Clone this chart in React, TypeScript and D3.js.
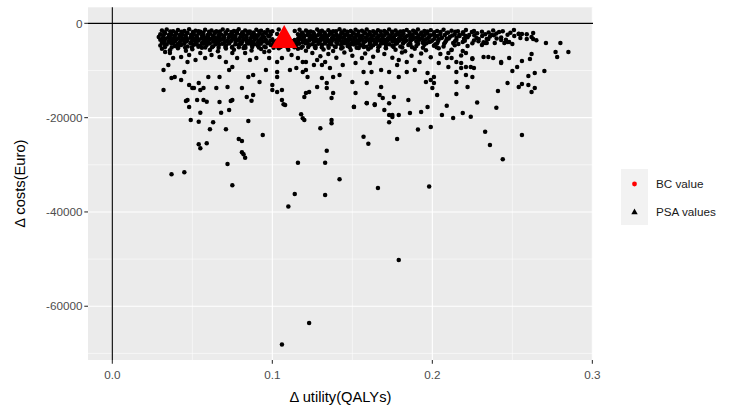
import React, { useEffect, useRef } from 'react';
import * as d3 from 'd3';

const xTicks = [0, 0.1, 0.2, 0.3];
const xTickLabels = ['0.0', '0.1', '0.2', '0.3'];
const xMinorTicks = [0.05, 0.15, 0.25];
const yTicks = [0, -20000, -40000, -60000];
const yTickLabels = ['0', '-20000', '-40000', '-60000'];
const yMinorTicks = [-10000, -30000, -50000, -70000];

const legendLabels = ['BC value', 'PSA values'];

// base case: [delta utility, delta cost]
const bcValue: [number, number] = [0.1074, -3100];

// PSA draws, dense band just under zero
const psaCore: [number, number][] = [
    [0.031,-1500],[0.034,-1300],[0.038,-1700],[0.041,-1400],[0.045,-1600],[0.048,-1250],[0.052,-1550],[0.055,-1800],[0.058,-1350],[0.062,-1500],[0.065,-1700],[0.069,-1300],[0.072,-1450],[0.076,-1650],[0.079,-1250],[0.083,-1500],[0.086,-1750],[0.090,-1350],[0.093,-1550],[0.097,-1400],[0.100,-1700],[0.104,-1300],[0.114,-1600],[0.117,-1350],[0.121,-1500],[0.124,-1750],[0.128,-1300],[0.131,-1550],[0.135,-1450],[0.138,-1700],[0.142,-1250],[0.145,-1500],[0.149,-1650],[0.152,-1350],[0.156,-1550],[0.159,-1300],[0.163,-1700],[0.166,-1450],[0.170,-1600],[0.173,-1300],[0.177,-1500],[0.180,-1750],[0.184,-1400],[0.188,-1550],[0.191,-1300],[0.195,-1650],[0.199,-1450],[0.203,-1600],[0.207,-1350],[0.212,-1550],[0.216,-1700],[0.221,-1400],[0.226,-1600],[0.231,-1800],[0.238,-1500],[0.244,-1700],[0.251,-1400],
    [0.030,-2300],[0.033,-2100],[0.037,-2400],[0.040,-2200],[0.044,-2350],[0.047,-2050],[0.051,-2300],[0.054,-2150],[0.057,-2450],[0.061,-2200],[0.064,-2050],[0.068,-2350],[0.071,-2200],[0.075,-2400],[0.078,-2100],[0.082,-2300],[0.085,-2150],[0.089,-2450],[0.092,-2200],[0.096,-2050],[0.099,-2350],[0.103,-2250],[0.116,-2300],[0.119,-2100],[0.123,-2400],[0.126,-2200],[0.130,-2050],[0.133,-2350],[0.137,-2150],[0.140,-2400],[0.144,-2100],[0.147,-2300],[0.151,-2200],[0.154,-2450],[0.158,-2100],[0.161,-2300],[0.165,-2150],[0.168,-2400],[0.172,-2200],[0.175,-2050],[0.179,-2350],[0.182,-2200],[0.186,-2400],[0.190,-2100],[0.193,-2300],[0.197,-2150],[0.201,-2400],[0.205,-2250],[0.209,-2050],[0.214,-2350],[0.219,-2200],[0.223,-2450],[0.228,-2100],[0.233,-2300],[0.240,-2150],[0.247,-2400],[0.254,-2200],[0.259,-2300],
    [0.029,-2900],[0.032,-2700],[0.036,-3000],[0.039,-2800],[0.043,-2650],[0.046,-2950],[0.050,-2750],[0.053,-3050],[0.057,-2850],[0.060,-2700],[0.064,-2950],[0.067,-2800],[0.070,-3050],[0.074,-2700],[0.077,-2900],[0.081,-2750],[0.084,-3000],[0.088,-2850],[0.091,-2650],[0.095,-2950],[0.098,-2800],[0.117,-2900],[0.120,-2700],[0.124,-3000],[0.127,-2800],[0.131,-2650],[0.134,-2950],[0.138,-2750],[0.141,-3050],[0.145,-2850],[0.148,-2700],[0.152,-2950],[0.155,-2800],[0.159,-3000],[0.162,-2700],[0.166,-2900],[0.169,-2750],[0.173,-3050],[0.176,-2850],[0.180,-2700],[0.183,-2950],[0.187,-2800],[0.191,-3000],[0.194,-2700],[0.198,-2900],[0.202,-2750],[0.206,-3000],[0.211,-2850],[0.217,-2700],[0.222,-2950],[0.236,-2800],[0.243,-3000],[0.262,-2900],
    [0.030,-3500],[0.033,-3300],[0.037,-3600],[0.040,-3400],[0.044,-3250],[0.047,-3550],[0.051,-3350],[0.054,-3650],[0.058,-3450],[0.061,-3300],[0.065,-3550],[0.068,-3400],[0.072,-3650],[0.075,-3300],[0.079,-3500],[0.082,-3350],[0.086,-3600],[0.089,-3450],[0.093,-3250],[0.096,-3550],[0.100,-3400],[0.103,-3650],[0.107,-3500],[0.110,-3300],[0.114,-3550],[0.118,-3400],[0.121,-3650],[0.125,-3300],[0.128,-3500],[0.132,-3350],[0.135,-3600],[0.139,-3450],[0.142,-3250],[0.146,-3550],[0.149,-3400],[0.153,-3650],[0.156,-3300],[0.160,-3500],[0.163,-3350],[0.167,-3600],[0.170,-3450],[0.174,-3250],[0.177,-3550],[0.181,-3400],[0.184,-3650],[0.188,-3300],[0.192,-3500],[0.196,-3350],[0.200,-3600],[0.204,-3400],[0.209,-3250],[0.215,-3550],[0.220,-3400],[0.226,-3650],[0.234,-3300],[0.246,-3500],[0.265,-3600],
    [0.031,-4100],[0.035,-3900],[0.038,-4200],[0.042,-4000],[0.045,-3850],[0.049,-4150],[0.052,-3950],[0.056,-4250],[0.059,-4050],[0.063,-3900],[0.066,-4150],[0.070,-4000],[0.073,-4250],[0.077,-3900],[0.080,-4100],[0.084,-3950],[0.087,-4200],[0.091,-4050],[0.094,-3850],[0.098,-4150],[0.101,-4000],[0.105,-4250],[0.108,-4100],[0.112,-3900],[0.115,-4150],[0.119,-4000],[0.122,-4250],[0.126,-3900],[0.129,-4100],[0.133,-3950],[0.136,-4200],[0.140,-4050],[0.143,-3850],[0.147,-4150],[0.150,-4000],[0.154,-4250],[0.157,-3900],[0.161,-4100],[0.164,-3950],[0.168,-4200],[0.171,-4050],[0.175,-3850],[0.178,-4150],[0.182,-4000],[0.186,-4250],[0.190,-3900],[0.194,-4100],[0.198,-3950],[0.203,-4200],[0.208,-4000],[0.213,-4150],[0.219,-3950],[0.225,-4200],[0.232,-4000],[0.239,-4150],[0.247,-3950],
    [0.030,-4700],[0.034,-4500],[0.039,-4800],[0.043,-4600],[0.047,-4900],[0.051,-4550],[0.055,-4750],[0.059,-4600],[0.063,-4850],[0.067,-4500],[0.071,-4700],[0.075,-4950],[0.079,-4600],[0.083,-4800],[0.087,-4550],[0.091,-4750],[0.095,-4900],[0.099,-4600],[0.103,-4800],[0.107,-4550],[0.111,-4750],[0.115,-4600],[0.119,-4900],[0.123,-4650],[0.127,-4800],[0.131,-4550],[0.135,-4750],[0.139,-4900],[0.143,-4600],[0.147,-4800],[0.151,-4500],[0.155,-4700],[0.159,-4950],[0.163,-4650],[0.167,-4800],[0.171,-4550],[0.175,-4750],[0.180,-4900],[0.185,-4600],[0.190,-4800],[0.195,-4550],[0.201,-4750],[0.207,-4900],[0.214,-4650],[0.222,-4800],[0.231,-4600],
    [0.031,-5400],[0.036,-5700],[0.041,-5300],[0.046,-5800],[0.050,-5500],[0.056,-5200],[0.061,-5650],[0.066,-5900],[0.071,-5350],[0.076,-5600],[0.082,-5250],[0.087,-5750],[0.093,-5450],[0.098,-5900],[0.104,-5300],[0.110,-5600],[0.116,-5400],[0.121,-5800],[0.127,-5250],[0.132,-5550],[0.138,-5850],[0.143,-5350],[0.149,-5650],[0.154,-5250],[0.160,-5500],[0.166,-5800],[0.171,-5300],[0.177,-5600],[0.183,-5900],[0.189,-5400],[0.196,-5700],[0.204,-5300],[0.212,-5600],[0.219,-5850]
];

// PSA draws filling the gaps of the dense band
const psaCoreFill: [number, number][] = [
    [0.0325,-1900],[0.0362,-1750],[0.0398,-1950],[0.0431,-1800],[0.0467,-2000],[0.0503,-1850],[0.0538,-1700],[0.0569,-1950],[0.0604,-1800],[0.0641,-1900],[0.0672,-1750],[0.0708,-1950],[0.0744,-1850],[0.0779,-1700],[0.0812,-1900],[0.0847,-1800],[0.0883,-1950],[0.0918,-1750],[0.0951,-1900],[0.0987,-1850],[0.1185,-1950],[0.1221,-1800],[0.1256,-1900],[0.1293,-1750],[0.1327,-1950],[0.1361,-1850],[0.1398,-1700],[0.1432,-1900],[0.1468,-1800],[0.1503,-1950],[0.1538,-1750],[0.1574,-1900],[0.1607,-1850],[0.1643,-1950],[0.1678,-1750],[0.1714,-1900],[0.1749,-1800],[0.1783,-1950],[0.1819,-1700],[0.1857,-1900],[0.1892,-1800],[0.1931,-1950],[0.1968,-1750],[0.2012,-1900],[0.2051,-1850],[0.2098,-1950],[0.2143,-1800],[0.2192,-1900],[0.2247,-1850],[0.2352,-1950],[0.2417,-1850],[0.2488,-2000],
    [0.0318,-2550],[0.0354,-2450],[0.0389,-2650],[0.0421,-2500],[0.0458,-2600],[0.0492,-2450],[0.0527,-2650],[0.0561,-2550],[0.0596,-2450],[0.0629,-2600],[0.0663,-2500],[0.0698,-2650],[0.0731,-2450],[0.0767,-2600],[0.0802,-2500],[0.0836,-2650],[0.0871,-2450],[0.0904,-2600],[0.0939,-2500],[0.0974,-2650],[0.1182,-2550],[0.1218,-2450],[0.1251,-2600],[0.1286,-2500],[0.1319,-2650],[0.1354,-2450],[0.1388,-2600],[0.1423,-2550],[0.1457,-2450],[0.1492,-2650],[0.1528,-2500],[0.1563,-2600],[0.1597,-2450],[0.1632,-2550],[0.1667,-2650],[0.1701,-2500],[0.1737,-2600],[0.1771,-2450],[0.1806,-2550],[0.1843,-2650],[0.1878,-2500],[0.1914,-2600],[0.1952,-2450],[0.1991,-2550],[0.2033,-2650],[0.2078,-2500],[0.2124,-2600],[0.2168,-2450],[0.2206,-2650],[0.2262,-2550],[0.2311,-2700],[0.2385,-2550],[0.2512,-2700],
    [0.0315,-3150],[0.0348,-3050],[0.0384,-3250],[0.0416,-3100],[0.0452,-3200],[0.0487,-3050],[0.0521,-3250],[0.0556,-3150],[0.0591,-3050],[0.0624,-3200],[0.0659,-3100],[0.0694,-3250],[0.0727,-3050],[0.0762,-3200],[0.0797,-3100],[0.0831,-3250],[0.0867,-3050],[0.0901,-3200],[0.0935,-3100],[0.1162,-3150],[0.1197,-3050],[0.1232,-3250],[0.1267,-3100],[0.1302,-3200],[0.1337,-3050],[0.1371,-3250],[0.1406,-3150],[0.1441,-3050],[0.1476,-3200],[0.1511,-3100],[0.1546,-3250],[0.1581,-3050],[0.1616,-3200],[0.1651,-3100],[0.1686,-3250],[0.1721,-3150],[0.1756,-3050],[0.1791,-3200],[0.1826,-3100],[0.1862,-3250],[0.1897,-3050],[0.1934,-3200],[0.1973,-3150],[0.2013,-3250],[0.2057,-3100],[0.2103,-3200],[0.2151,-3050],[0.2198,-3250],[0.2276,-3100],[0.2402,-3200],
    [0.0322,-3850],[0.0357,-3700],[0.0392,-3800],[0.0428,-3700],[0.0463,-3850],[0.0498,-3750],[0.0533,-3650],[0.0568,-3850],[0.0602,-3700],[0.0637,-3800],[0.0672,-3650],[0.0707,-3850],[0.0742,-3750],[0.0777,-3650],[0.0812,-3800],[0.0847,-3700],[0.0882,-3850],[0.0917,-3650],[0.0952,-3800],[0.0987,-3700],[0.1022,-3850],[0.1057,-3750],[0.1092,-3650],[0.1127,-3800],[0.1162,-3700],[0.1197,-3850],[0.1232,-3650],[0.1267,-3800],[0.1302,-3700],[0.1337,-3850],[0.1372,-3750],[0.1407,-3650],[0.1442,-3800],[0.1477,-3700],[0.1512,-3850],[0.1547,-3650],[0.1582,-3800],[0.1617,-3700],[0.1652,-3850],[0.1687,-3750],[0.1722,-3650],[0.1757,-3800],[0.1792,-3700],[0.1829,-3850],[0.1866,-3650],[0.1905,-3800],[0.1947,-3700],[0.1991,-3850],[0.2036,-3750],[0.2087,-3650],[0.2141,-3800],[0.2203,-3700],[0.2288,-3800],
    [0.0326,-4400],[0.0368,-4300],[0.0408,-4450],[0.0449,-4350],[0.0489,-4250],[0.0528,-4450],[0.0571,-4350],[0.0609,-4300],[0.0648,-4450],[0.0689,-4350],[0.0728,-4250],[0.0769,-4450],[0.0808,-4350],[0.0849,-4300],[0.0889,-4450],[0.0928,-4350],[0.0969,-4250],[0.1009,-4450],[0.1048,-4350],[0.1089,-4300],[0.1129,-4450],[0.1168,-4350],[0.1209,-4250],[0.1249,-4450],[0.1288,-4350],[0.1329,-4300],[0.1369,-4450],[0.1408,-4350],[0.1449,-4250],[0.1489,-4450],[0.1528,-4350],[0.1569,-4300],[0.1609,-4450],[0.1648,-4350],[0.1689,-4250],[0.1731,-4450],[0.1772,-4350],[0.1817,-4300],[0.1862,-4450],[0.1911,-4350],[0.1963,-4250],[0.2018,-4450],[0.2074,-4350],[0.2163,-4400],
    [0.0328,-5050],[0.0371,-5150],[0.0412,-5000],[0.0455,-5150],[0.0497,-5050],[0.0538,-4950],[0.0581,-5150],[0.0623,-5050],[0.0664,-5200],[0.0706,-5000],[0.0748,-5150],[0.0791,-5050],[0.0832,-5200],[0.0874,-5000],[0.0916,-5150],[0.0958,-5050],[0.1008,-5200],[0.1052,-5000],[0.1095,-5150],[0.1138,-5050],[0.1181,-5200],[0.1224,-5000],[0.1267,-5150],[0.1309,-5050],[0.1352,-5200],[0.1396,-5000],[0.1439,-5150],[0.1483,-5050],[0.1527,-5200],[0.1571,-5000],[0.1616,-5150],[0.1662,-5050],[0.1709,-5200],[0.1758,-5000],[0.1812,-5150],[0.1873,-5050],[0.1941,-5200],[0.2027,-5050]
];

// PSA draws, sparser part of the band (-6000 .. -16000)
const psaMid: [number, number][] = [
    [0.033,-6090],[0.036,-6300],[0.038,-7360],[0.043,-7150],[0.047,-8210],[0.048,-6720],[0.052,-7780],[0.055,-6300],[0.058,-7360],[0.062,-6720],[0.067,-7150],[0.071,-8210],[0.075,-6300],[0.078,-7360],[0.083,-6300],[0.086,-7780],[0.090,-7360],[0.095,-6090],[0.098,-7360],[0.103,-8210],[0.106,-7360],[0.112,-6720],[0.116,-7360],[0.121,-8210],
    [0.032,-9910],[0.032,-14150],[0.035,-8840],[0.037,-11600],[0.039,-11390],[0.043,-12030],[0.045,-10330],[0.048,-13090],[0.050,-13720],[0.051,-13720],[0.055,-14150],[0.057,-13720],[0.054,-12680],[0.060,-11390],[0.065,-13720],[0.067,-11390],[0.072,-13510],[0.073,-9910],[0.075,-9270],[0.081,-13720],[0.085,-11390],[0.088,-10970],[0.084,-15630],[0.088,-15210],[0.092,-12450],[0.096,-9910],[0.100,-13090],[0.100,-14150],[0.103,-14570],[0.106,-14150],[0.103,-10330],[0.103,-11390],[0.111,-9910],[0.115,-9480],[0.119,-10330],[0.121,-14780],
    [0.119,-8210],[0.121,-9910],[0.122,-11390],[0.120,-15630],[0.123,-14570],[0.126,-8840],[0.128,-7780],[0.131,-8840],[0.133,-8210],[0.128,-13510],[0.131,-11600],[0.134,-12660],[0.134,-13720],[0.137,-15840],[0.138,-14780],[0.136,-9480],[0.138,-11390],[0.142,-10970],[0.144,-8840],[0.150,-12450],[0.152,-14780],[0.152,-8420],[0.156,-7360],[0.157,-10330],[0.159,-12660],[0.161,-8420],[0.162,-10330],[0.168,-9910],[0.168,-13510],[0.167,-15210],[0.169,-15840],[0.173,-10330],[0.176,-15630],[0.178,-8840],[0.179,-11390],[0.179,-7780],[0.184,-8210],[0.184,-10330],[0.189,-9910],[0.192,-8210],[0.196,-12450],[0.199,-12030],[0.201,-12660],[0.200,-13720],[0.197,-10540],[0.201,-11390],[0.203,-15210],[0.204,-8420],[0.209,-7360],[0.210,-9270],[0.212,-5660],[0.215,-10330],
    [0.125,-6300],[0.130,-7000],[0.135,-6500],[0.140,-7300],[0.145,-6200],[0.150,-6900],[0.158,-6400],[0.163,-7100],[0.170,-6500],[0.175,-7300],[0.181,-6200],[0.187,-6900],[0.193,-6400],[0.199,-7200],[0.205,-6500],[0.218,-6800],[0.225,-7400],
    [0.229,-3330],[0.233,-4180],[0.237,-2480],[0.235,-3330],[0.234,-4180],[0.243,-3540],[0.245,-4180],[0.248,-3970],[0.250,-4390],[0.254,-2270],[0.255,-3120],[0.256,-2270],[0.259,-3330],[0.263,-2060],[0.263,-3330],[0.271,-4180],[0.280,-4180],[0.277,-6090],[0.278,-7150],[0.285,-6090],
    [0.232,-7150],[0.235,-7150],[0.238,-7360],[0.243,-8210],[0.243,-8420],[0.248,-7360],[0.256,-8000],[0.261,-7570],[0.262,-6510],[0.210,-6300],[0.212,-7360],[0.215,-8210],[0.218,-8420],[0.221,-9270],[0.218,-9480],[0.224,-9270],[0.226,-9480],[0.225,-7570],[0.221,-6300],
    [0.250,-10120],[0.253,-9270],[0.260,-11180],[0.264,-10540],[0.270,-10120],[0.221,-10970],[0.225,-11390],[0.215,-12450],[0.222,-13510],[0.215,-15000],[0.247,-12680],[0.241,-14360],[0.254,-13510],[0.256,-12870],[0.260,-13090],[0.264,-13720],[0.262,-14570]
];

// PSA draws, long tail of larger savings
const psaTail: [number, number][] = [
    [0.047,-16270],[0.048,-17760],[0.053,-16270],[0.057,-16270],[0.067,-16690],[0.073,-18390],[0.075,-16270],
    [0.046,-16480],[0.059,-16630],[0.074,-16480],[0.087,-16420],[0.055,-18960],[0.068,-18960],
    [0.049,-20510],[0.054,-20870],[0.063,-21000],[0.085,-20720],[0.061,-22480],[0.071,-22480],[0.094,-23690],[0.079,-24540],[0.081,-24960],
    [0.054,-25660],[0.055,-26510],[0.059,-25450],[0.081,-27360],[0.082,-27780],[0.083,-28510],[0.072,-29840],[0.037,-32030],[0.045,-31600],[0.075,-34360],
    [0.107,-17180],[0.108,-17330],[0.106,-16270],[0.118,-19300],[0.119,-20150],[0.120,-20510],[0.130,-22270],[0.137,-20510],[0.137,-21210],[0.134,-27020],
    [0.116,-29570],[0.133,-29570],[0.142,-33090],[0.114,-36200],[0.133,-36420],[0.110,-38820],
    [0.151,-17760],[0.159,-16900],[0.164,-17330],[0.170,-18390],[0.173,-19450],[0.175,-19880],[0.179,-19450],[0.185,-16270],
    [0.151,-17690],[0.159,-16970],[0.164,-17180],[0.173,-16970],[0.175,-19450],[0.173,-21000],[0.157,-24050],[0.160,-25540],[0.178,-24540],
    [0.166,-34930],[0.179,-50200],[0.123,-63570],[0.106,-68090],
    [0.206,-19450],[0.193,-18820],[0.197,-17760],[0.219,-19030],[0.213,-20090],
    [0.198,-34600],[0.199,-22000],[0.191,-22500],[0.233,-23000],[0.236,-25800],[0.244,-28800],[0.256,-23700],[0.224,-19800],[0.209,-17500],[0.186,-19000],[0.228,-16800],[0.240,-17900]
];

const FONT = "'Liberation Sans', Arial, sans-serif";

export default function App() {
    const ref = useRef<SVGSVGElement>(null);

    useEffect(() => {
        const svg = d3.select(ref.current);
        svg.selectAll("*").remove();

        const panel = {left: 88, right: 593, top: 7.3, bottom: 360};
        const xScale = d3.scaleLinear().domain([-0.0152, 0.3004]).range([panel.left, panel.right]);
        const yScale = d3.scaleLinear().domain([-71400, 3400]).range([panel.bottom, panel.top]);

        addPanel({svg, panel, xScale, yScale});
        addAxes({svg, panel, xScale, yScale});
        addPoints({svg, xScale, yScale});
        addLegend({svg});
    }, []);

    return (
        <svg ref={ref} width={737} height={416}
             style={{position: 'absolute', left: 0, top: 0, background: '#fff'}}/>
    );
}

function addPanel({svg, panel, xScale, yScale}) {
    svg.append("rect")
        .attr("x", panel.left)
        .attr("y", panel.top)
        .attr("width", panel.right - panel.left)
        .attr("height", panel.bottom - panel.top)
        .attr("fill", "#EBEBEB");

    const grid = svg.append("g").attr("stroke", "#fff");

    grid.selectAll(".x-minor").data(xMinorTicks).enter().append("line")
        .attr("x1", d => xScale(d)).attr("x2", d => xScale(d))
        .attr("y1", panel.top).attr("y2", panel.bottom)
        .attr("stroke-width", 0.55);
    grid.selectAll(".y-minor").data(yMinorTicks).enter().append("line")
        .attr("y1", d => yScale(d)).attr("y2", d => yScale(d))
        .attr("x1", panel.left).attr("x2", panel.right)
        .attr("stroke-width", 0.55);
    grid.selectAll(".x-major").data(xTicks).enter().append("line")
        .attr("x1", d => xScale(d)).attr("x2", d => xScale(d))
        .attr("y1", panel.top).attr("y2", panel.bottom)
        .attr("stroke-width", 1.1);
    grid.selectAll(".y-major").data(yTicks).enter().append("line")
        .attr("y1", d => yScale(d)).attr("y2", d => yScale(d))
        .attr("x1", panel.left).attr("x2", panel.right)
        .attr("stroke-width", 1.1);

    // reference lines at zero
    svg.append("line")
        .attr("x1", panel.left).attr("x2", panel.right)
        .attr("y1", yScale(0)).attr("y2", yScale(0))
        .attr("stroke", "#000").attr("stroke-width", 1.1);
    svg.append("line")
        .attr("x1", xScale(0)).attr("x2", xScale(0))
        .attr("y1", panel.top).attr("y2", panel.bottom)
        .attr("stroke", "#000").attr("stroke-width", 1.1);
}

function addAxes({svg, panel, xScale, yScale}) {
    const xAxis = svg.append("g");
    xAxis.selectAll("line").data(xTicks).enter().append("line")
        .attr("x1", d => xScale(d)).attr("x2", d => xScale(d))
        .attr("y1", panel.bottom).attr("y2", panel.bottom + 3.7)
        .attr("stroke", "#333").attr("stroke-width", 1.1);
    xAxis.selectAll("text").data(xTicks).enter().append("text")
        .attr("x", d => xScale(d))
        .attr("y", 379)
        .attr("text-anchor", "middle")
        .attr("fill", "#4D4D4D")
        .style("font", `11.7px ${FONT}`)
        .text((d, i) => xTickLabels[i]);

    const yAxis = svg.append("g");
    yAxis.selectAll("line").data(yTicks).enter().append("line")
        .attr("y1", d => yScale(d)).attr("y2", d => yScale(d))
        .attr("x1", panel.left - 3.7).attr("x2", panel.left)
        .attr("stroke", "#333").attr("stroke-width", 1.1);
    yAxis.selectAll("text").data(yTicks).enter().append("text")
        .attr("x", panel.left - 5.5)
        .attr("y", d => yScale(d))
        .attr("dy", "0.36em")
        .attr("text-anchor", "end")
        .attr("fill", "#4D4D4D")
        .style("font", `11.7px ${FONT}`)
        .text((d, i) => yTickLabels[i]);

    svg.append("text")
        .attr("x", (panel.left + panel.right) / 2)
        .attr("y", 402)
        .attr("text-anchor", "middle")
        .attr("fill", "#000")
        .style("font", `14.7px ${FONT}`)
        .text("\u0394 utility(QALYs)");

    svg.append("text")
        .attr("transform", `translate(25,${(panel.top + panel.bottom) / 2}) rotate(-90)`)
        .attr("text-anchor", "middle")
        .attr("fill", "#000")
        .style("font", `14.7px ${FONT}`)
        .text("\u0394 costs(Euro)");
}

function addPoints({svg, xScale, yScale}) {
    const all = [].concat(psaCore, psaCoreFill, psaMid, psaTail);
    svg.append("g").selectAll("circle").data(all).enter().append("circle")
        .attr("cx", d => xScale(d[0]))
        .attr("cy", d => yScale(d[1]))
        .attr("r", 2.25)
        .attr("fill", "#000");

    svg.append("path")
        .attr("transform", `translate(${xScale(bcValue[0])},${yScale(bcValue[1])})`)
        .attr("d", "M0,-13L13,10L-13,10Z")
        .attr("fill", "#FF0000");
}

function addLegend({svg}) {
    const legend = svg.append("g").attr("transform", "translate(621,169)");
    legend.append("rect")
        .attr("width", 27).attr("height", 56)
        .attr("fill", "#F2F2F2");

    legend.append("circle")
        .attr("cx", 13.5).attr("cy", 15)
        .attr("r", 2.4)
        .attr("fill", "#FF0000");
    legend.append("path")
        .attr("transform", "translate(13.5,43)")
        .attr("d", "M0,-3.4L3.2,2.2L-3.2,2.2Z")
        .attr("fill", "#000");

    legend.selectAll("text").data(legendLabels).enter().append("text")
        .attr("x", 35)
        .attr("y", (d, i) => 15 + i * 28)
        .attr("dy", "0.36em")
        .attr("fill", "#1A1A1A")
        .style("font", `11.7px ${FONT}`)
        .text(d => d);
}
